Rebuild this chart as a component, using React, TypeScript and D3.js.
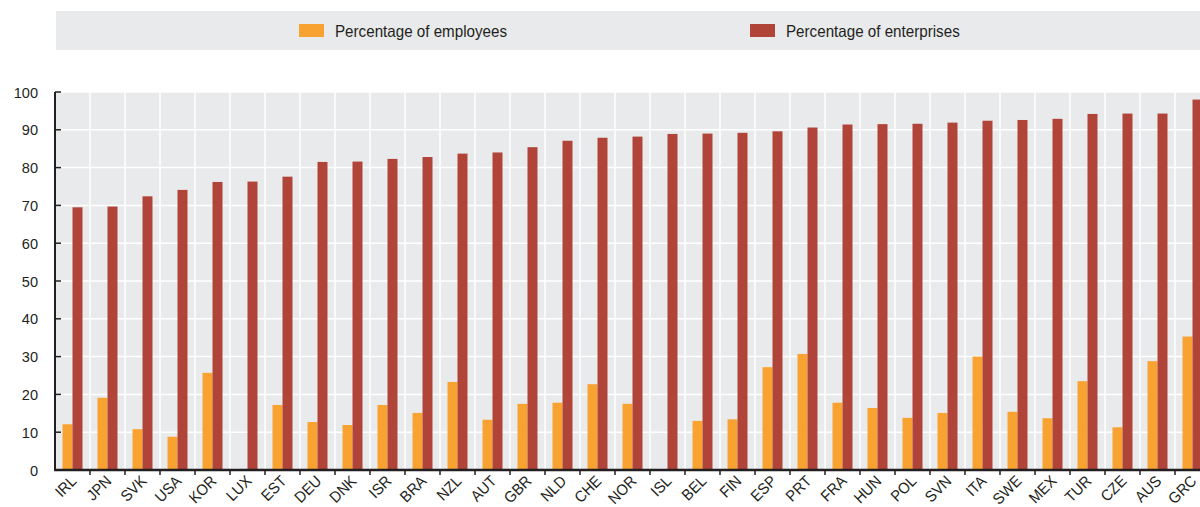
import * as d3 from "d3"

const countries = ["IRL", "JPN", "SVK", "USA", "KOR", "LUX", "EST", "DEU", "DNK", "ISR", "BRA", "NZL", "AUT", "GBR", "NLD", "CHE", "NOR", "ISL", "BEL", "FIN", "ESP", "PRT", "FRA", "HUN", "POL", "SVN", "ITA", "SWE", "MEX", "TUR", "CZE", "AUS", "GRC"]
const employees = [12.1, 19.1, 10.8, 8.8, 25.7, 0, 17.2, 12.7, 11.9, 17.2, 15.1, 23.3, 13.3, 17.5, 17.8, 22.7, 17.5, 0, 13.0, 13.4, 27.2, 30.7, 17.8, 16.4, 13.8, 15.1, 30.0, 15.4, 13.7, 23.5, 11.3, 28.8, 35.3]
const enterprises = [69.5, 69.7, 72.4, 74.1, 76.2, 76.3, 77.6, 81.5, 81.6, 82.3, 82.8, 83.7, 84.0, 85.4, 87.1, 87.9, 88.2, 88.9, 89.0, 89.2, 89.6, 90.6, 91.4, 91.5, 91.6, 91.9, 92.4, 92.6, 92.9, 94.2, 94.3, 94.3, 98.0]
const yTicks = [0, 10, 20, 30, 40, 50, 60, 70, 80, 90, 100]
const seriesNames = ["Percentage of employees", "Percentage of enterprises"]

const ORANGE = "#f8a331"
const RED = "#b14438"
const BG = "#e9eaec"
const FONT = "'Liberation Sans', Arial, sans-serif"
const INK = "#231f20"

const App = () => {
  const width = 1200
  const height = 507
  const left = 55
  const top = 92
  const bottom = 470

  const x = d3.scaleBand<string>()
    .domain(countries)
    .range([left, left + countries.length * 35])

  const y = d3.scaleLinear().domain([0, 100]).range([bottom, top])

  const inner = d3.scaleBand<string>()
    .domain(["emp", "ent"])
    .range([0, x.bandwidth()])
    .paddingOuter(0.75)
    .paddingInner(0)

  const boundaries = countries.slice(1).map(c => x(c) as number)

  return (
    <div style={{ position: "absolute", left: 0, top: 0 }}>
      <svg width={width} height={height} style={{ display: "block", fontFamily: FONT }}>
        {/* legend */}
        <rect x={56} y={11} width={width - 56} height={39} fill={BG} />
        <rect x={299} y={24} width={25} height={13} fill={ORANGE} />
        <text transform="translate(335,36.5) scale(0.92,1)" fontSize={16.5} fill={INK}>{seriesNames[0]}</text>
        <rect x={750} y={24} width={25} height={13} fill={RED} />
        <text transform="translate(786,36.5) scale(0.92,1)" fontSize={16.5} fill={INK}>{seriesNames[1]}</text>

        {/* plot background */}
        <rect x={left} y={top} width={width - left} height={bottom - top} fill={BG} />
        {yTicks.slice(1).map(t => (
          <line key={"h" + t} x1={left} x2={width} y1={y(t)} y2={y(t)} stroke="#fff" strokeWidth={1.5} />
        ))}
        {boundaries.map((b, i) => (
          <line key={"v" + i} x1={b} x2={b} y1={top} y2={bottom} stroke="#fff" strokeWidth={1.5} />
        ))}

        {/* bars */}
        {countries.map((c, i) => {
          const bx = x(c) as number
          return (
            <g key={c}>
              {employees[i] > 0 && (
                <rect x={bx + (inner("emp") as number)} y={y(employees[i])} width={inner.bandwidth()} height={bottom - y(employees[i])} fill={ORANGE} />
              )}
              <rect x={bx + (inner("ent") as number)} y={y(enterprises[i])} width={inner.bandwidth()} height={bottom - y(enterprises[i])} fill={RED} />
            </g>
          )
        })}

        {/* y axis */}
        <line x1={left} x2={left} y1={top} y2={bottom} stroke={INK} strokeWidth={2} />
        {yTicks.map(t => (
          <g key={"yt" + t}>
            <line x1={left} x2={left + 6} y1={y(t)} y2={y(t)} stroke={INK} strokeWidth={1.5} />
            <text transform={`translate(38,${y(t) + 5.5}) scale(0.94,1)`} fontSize={15.5} textAnchor="end" fill={INK}>{t}</text>
          </g>
        ))}

        {/* x axis */}
        <line x1={left - 1} x2={width} y1={bottom} y2={bottom} stroke={INK} strokeWidth={2.5} />
        {boundaries.map((b, i) => (
          <line key={"xt" + i} x1={b} x2={b} y1={bottom} y2={bottom + 5} stroke={INK} strokeWidth={1.5} />
        ))}
        {countries.map(c => {
          const cx = (x(c) as number) + x.bandwidth() / 2
          return (
            <text key={"xl" + c} transform={`translate(${cx + 5},${482}) rotate(-45) scale(0.94,1)`} fontSize={15.5} textAnchor="end" fill={INK}>{c}</text>
          )
        })}
      </svg>
    </div>
  )
}

export default App
